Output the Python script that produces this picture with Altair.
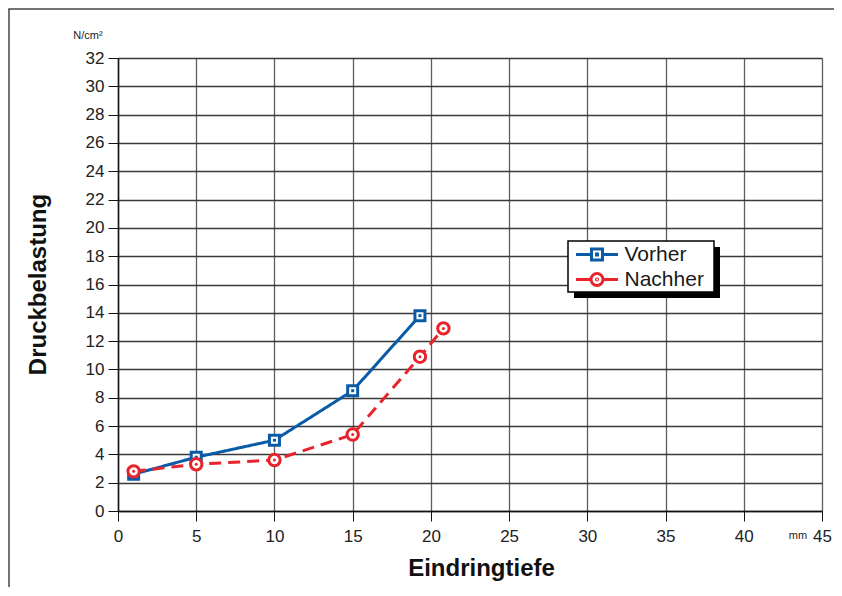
import altair as alt
import pandas as pd

# data
vorher_x = [1, 5, 10, 15, 19.3]
vorher_y = [2.6, 3.8, 5.0, 8.5, 13.8]
nachher_x = [1, 5, 10, 15, 19.3, 20.8]
nachher_y = [2.8, 3.3, 3.6, 5.4, 10.9, 12.9]
series_names = ["Vorher", "Nachher"]
x_ticks = [0, 5, 10, 15, 20, 25, 30, 35, 40, 45]
y_ticks = list(range(0, 33, 2))

BLUE = "#0a5aa6"
RED = "#e8232b"
FONT = "Liberation Sans"

df = pd.DataFrame(
    [{"series": "Vorher", "x": a, "y": b} for a, b in zip(vorher_x, vorher_y)]
    + [{"series": "Nachher", "x": a, "y": b} for a, b in zip(nachher_x, nachher_y)]
)
leg_df = pd.DataFrame({"series": series_names})

xs = alt.Scale(domain=[0, 45], nice=False, zero=False)
ys = alt.Scale(domain=[0, 32], nice=False)

X = alt.X("x:Q", scale=xs, axis=alt.Axis(
    values=x_ticks, title="Eindringtiefe", titleFontSize=24, titleFont=FONT,
    titleFontWeight="bold", titleColor="#111", titleX=363, titleY=57,
    titleBaseline="middle", labelFontSize=17, labelFont=FONT, labelColor="#222",
    labelPadding=7, tickSize=10, tickColor="#111", domainColor="#111",
    domainWidth=1.5, gridColor="#5e5e5e", gridWidth=1.3, labelFlush=False))
Y = alt.Y("y:Q", scale=ys, axis=alt.Axis(
    values=y_ticks, title="Druckbelastung", titleFontSize=24, titleFont=FONT,
    titleFontWeight="bold", titleColor="#111", titleX=-80, titleY=226,
    titleAngle=270, titleBaseline="middle", labelFontSize=17, labelFont=FONT,
    labelColor="#222", labelPadding=4, tickSize=10, tickColor="#111",
    domainColor="#111", domainWidth=1.5, gridColor="#3a3a3a", gridWidth=1.3,
    labelFlush=False))

SQUARE_PATH = "M-4.2,0H-1.1M1.1,0H4.2M-1.1,-1.1H1.1V1.1H-1.1ZM-0.1,-0.1H0.1V0.1H-0.1Z"
CIRCLE_PATH = ("M-4.2,0H-1.2M1.2,0H4.2M1.2,0A1.2,1.2,0,1,1,-1.2,0A1.2,1.2,0,1,1,1.2,0Z"
               "M0.12,0A0.12,0.12,0,1,1,-0.12,0A0.12,0.12,0,1,1,0.12,0Z")

legend = alt.Legend(
    title=None, orient="none", legendX=460, legendY=186,
    labelFontSize=21, labelFont=FONT, labelColor="#1a1a1a", symbolSize=100,
    symbolStrokeWidth=3, symbolOffset=8.5, labelOffset=17,
    symbolFillColor="white", symbolOpacity=1)

one = alt.Data(values=[{"a": 1}])
shadow = alt.Chart(one).mark_rect(color="black").encode(
    x=alt.value(456), x2=alt.value(602), y=alt.value(189), y2=alt.value(240))
box = alt.Chart(one).mark_rect(fill="white", stroke="black", strokeWidth=1.5).encode(
    x=alt.value(450), x2=alt.value(596), y=alt.value(183), y2=alt.value(234))
frame_left = alt.Chart(one).mark_rule(color="#444", strokeWidth=1.5).encode(
    x=alt.value(-109), y=alt.value(-49), y2=alt.value(545))
frame_top = alt.Chart(one).mark_rule(color="#444", strokeWidth=1.5).encode(
    x=alt.value(-109.75), x2=alt.value(730), y=alt.value(-49))
unit_y = alt.Chart(one).mark_text(text="N/cm²", font=FONT, fontSize=11, color="#222",
                                  baseline="alphabetic").encode(x=alt.value(-30), y=alt.value(-19))
unit_x = alt.Chart(one).mark_text(text="mm", font=FONT, fontSize=11, color="#222",
                                  baseline="alphabetic").encode(x=alt.value(680), y=alt.value(481))

# legend carrier: points hidden beneath the legend box
leg_layer = alt.Chart(leg_df).mark_point(filled=True, fill="white", strokeWidth=3, size=1, opacity=1).encode(
    x=alt.value(520), y=alt.value(208),
    stroke=alt.Stroke("series:N", scale=alt.Scale(domain=series_names, range=[BLUE, RED]), legend=legend),
    shape=alt.Shape("series:N", scale=alt.Scale(domain=series_names, range=[SQUARE_PATH, CIRCLE_PATH]), legend=legend),
)


def series_layers(name, shape, color, size, dash):
    base = alt.Chart(df).transform_filter(alt.datum.series == name)
    line = base.mark_line(strokeWidth=3, color=color, strokeDash=dash).encode(x=X, y=Y)
    outer = base.mark_point(shape=shape, size=size, filled=True, fill="white",
                            stroke=color, strokeWidth=3, opacity=1).encode(x=X, y=Y)
    inner = base.mark_point(shape=shape, size=9, filled=True, color=color, opacity=1).encode(x=X, y=Y)
    return [line, outer, inner]


chart = alt.layer(
    frame_left, frame_top, shadow, leg_layer, box,
    *series_layers("Vorher", "square", BLUE, 100, [1, 0]),
    *series_layers("Nachher", "circle", RED, 130, [12, 7]),
    unit_y, unit_x,
).properties(
    width=704, height=453,
    autosize=alt.AutoSizeParams(type="none"),
    padding={"left": 110, "top": 50, "right": 12, "bottom": 76},
    background="white",
).configure_view(strokeWidth=0).configure_legend(padding=0, rowPadding=1)

chart.save("out.html", embed_options={"renderer": "svg", "actions": False})
